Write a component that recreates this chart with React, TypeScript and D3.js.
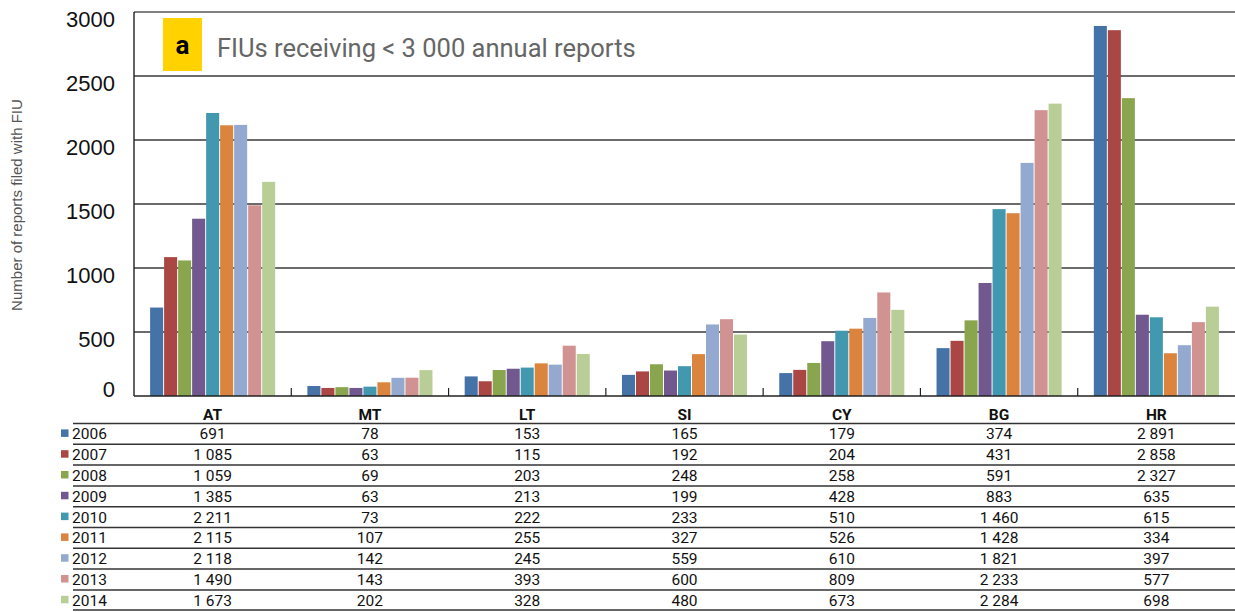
import React from "react";
import * as d3 from "d3";

const categories = ["AT", "MT", "LT", "SI", "CY", "BG", "HR"];
const years = ["2006", "2007", "2008", "2009", "2010", "2011", "2012", "2013", "2014"];
const v2006 = [691, 78, 153, 165, 179, 374, 2891];
const v2007 = [1085, 63, 115, 192, 204, 431, 2858];
const v2008 = [1059, 69, 203, 248, 258, 591, 2327];
const v2009 = [1385, 63, 213, 199, 428, 883, 635];
const v2010 = [2211, 73, 222, 233, 510, 1460, 615];
const v2011 = [2115, 107, 255, 327, 526, 1428, 334];
const v2012 = [2118, 142, 245, 559, 610, 1821, 397];
const v2013 = [1490, 143, 393, 600, 809, 2233, 577];
const v2014 = [1673, 202, 328, 480, 673, 2284, 698];
const series = [v2006, v2007, v2008, v2009, v2010, v2011, v2012, v2013, v2014];
const colors = ["#4572A7", "#AA4643", "#89A54E", "#71588F", "#4198AF", "#DB843D", "#93A9CF", "#D19392", "#B9CD96"];
const yTicks = [0, 500, 1000, 1500, 2000, 2500, 3000];

const fmt = (n: number) => {
  const s = String(n);
  return s.length > 3 ? s.slice(0, s.length - 3) + " " + s.slice(-3) : s;
};

export default function App() {
  const W = 1235, H = 612;
  const left = 134, right = 1235, top = 12, bottom = 396;
  const x = d3.scaleBand().domain(categories).range([left, right]).paddingInner(0).paddingOuter(0);
  const xi = d3.scaleBand().domain(years).range([0, x.bandwidth()]).paddingInner(0.07).paddingOuter(1.15);
  const y = d3.scaleLinear().domain([0, 3000]).range([bottom, top]);
  const font = "Roboto, 'Noto Sans', sans-serif";
  const arial = "'Liberation Sans', Arial, sans-serif";
  const tableTop = 423.5;
  const rowH = 20.8;
  return (
    <svg width={W} height={H} style={{ position: "absolute", left: 0, top: 0 }} fontFamily={font}>
      <rect x={0} y={0} width={W} height={H} fill="#fff" />
      {yTicks.map((t) =>
        t === 0 ? null : (
          <line key={t} x1={left} x2={right} y1={y(t)} y2={y(t)}
            stroke={t === 3000 ? "#808080" : "#3a3a3a"} strokeWidth={t === 3000 ? 2 : 1.4} />
        )
      )}
      {yTicks.map((t) => (
        <text key={"l" + t} x={115} y={t === 0 ? y(t) + 1 : y(t) + 15} textAnchor="end" fontSize={22} fill="#111" fontFamily={arial}>{t}</text>
      ))}
      <text transform={`translate(22,205) rotate(-90)`} textAnchor="middle" fontSize={15} fill="#555" fontFamily={arial}>
        Number of reports filed with FIU
      </text>
      {series.map((vals, si) =>
        vals.map((v, ci) => (
          <rect key={si + "-" + ci} x={(x(categories[ci]) as number) + (xi(years[si]) as number)}
            y={y(v)} width={xi.bandwidth()} height={bottom - y(v)} fill={colors[si]} />
        ))
      )}
      <line x1={left} x2={left} y1={top} y2={bottom} stroke="#222" strokeWidth={1.4} />
      <line x1={left} x2={right} y1={bottom} y2={bottom} stroke="#222" strokeWidth={1.6} />
      {categories.map((c, i) =>
        i === 0 ? null : (
          <line key={"tk" + c} x1={x(c)} x2={x(c)} y1={bottom} y2={bottom - 8} stroke="#222" strokeWidth={1.2} />
        )
      )}
      <rect x={163} y={18} width={39} height={53} fill="#FFD200" />
      <text x={182.5} y={54} textAnchor="middle" fontSize={26} fontWeight="bold" fill="#000">a</text>
      <text x={217} y={57} fontSize={25.5} fill="#666">FIUs receiving &lt; 3 000 annual reports</text>
      {categories.map((c) => (
        <text key={"h" + c} x={(x(c) as number) + x.bandwidth() / 2} y={420} textAnchor="middle" fontSize={15.5} fontWeight="bold" fill="#111">{c}</text>
      ))}
      {years.map((yr, r) => (
        <line key={"rl" + r} x1={73} x2={right} y1={tableTop + r * rowH} y2={tableTop + r * rowH} stroke="#333" strokeWidth={1.5} />
      ))}
      <line x1={73} x2={right} y1={tableTop + 9 * rowH - 0.8} y2={tableTop + 9 * rowH - 0.8} stroke="#333" strokeWidth={1.5} />
      {years.map((yr, r) => {
        const cy = tableTop + r * rowH + rowH / 2;
        return (
          <g key={"row" + yr}>
            <rect x={61} y={cy - 4.5} width={7.5} height={7.5} fill={colors[r]} />
            <text x={72} y={cy + 5.5} fontSize={15.5} fill="#111">{yr}</text>
            {series[r].map((v, ci) => (
              <text key={ci} x={(x(categories[ci]) as number) + x.bandwidth() / 2} y={cy + 5.5} textAnchor="middle" fontSize={15.5} fill="#111">{fmt(v)}</text>
            ))}
          </g>
        );
      })}
    </svg>
  );
}
